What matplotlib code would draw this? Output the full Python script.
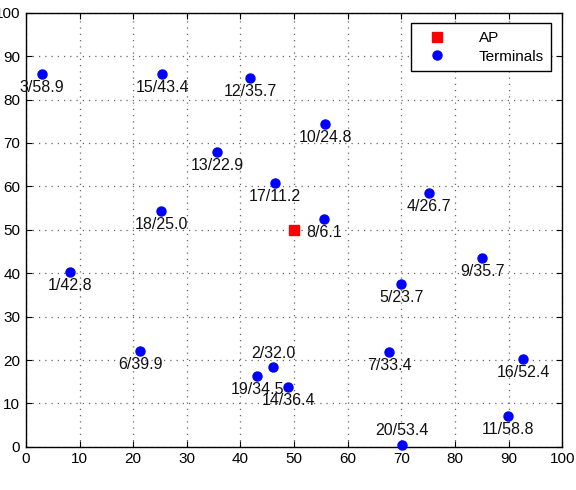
import matplotlib

matplotlib.use("Agg")
import matplotlib.pyplot as plt  # noqa: E402

plt.rcParams["font.family"] = ["Liberation Sans", "DejaVu Sans"]

# access point
ap_x = [50.0]
ap_y = [50.0]

# terminals: id, x, y, value
term_id = [1, 2, 3, 4, 5, 6, 7, 8, 9, 10, 11, 12, 13, 14, 15, 16, 17, 18, 19, 20]
term_x = [8.2, 46.1, 3.0, 75.2, 70.0, 21.3, 67.7, 55.6, 85.1, 55.8,
          89.9, 41.8, 35.6, 48.9, 25.4, 92.7, 46.5, 25.2, 43.1, 70.1]
term_y = [40.3, 18.4, 85.9, 58.5, 37.6, 22.1, 21.9, 52.5, 43.5, 74.4,
          7.1, 85.0, 68.0, 13.8, 85.9, 20.3, 60.8, 54.4, 16.4, 0.5]
term_val = [42.8, 32.0, 58.9, 26.7, 23.7, 39.9, 33.4, 6.1, 35.7, 24.8,
            58.8, 35.7, 22.9, 36.4, 43.4, 52.4, 11.2, 25.0, 34.5, 53.4]
label_above = {2, 20}


def main() -> None:
    fig = plt.figure(figsize=(5.76, 4.9), dpi=100)
    ax = fig.add_axes([0.045, 0.088, 0.931, 0.886])

    ax.plot(ap_x, ap_y, "s", color="red", ms=7.5, label="AP", zorder=3)
    ax.plot(term_x, term_y, "o", color="blue", ms=6.5, label="Terminals", zorder=3,
            clip_on=False)

    for i, x, y, v in zip(term_id, term_x, term_y, term_val):
        dy = 10 if i in label_above else -10
        ax.annotate(f"{i}/{v:.1f}", (x, y), xytext=(0, dy), textcoords="offset points",
                    ha="center", va="center", fontsize=11.5, color="#111111")

    ax.set_xlim(0, 100)
    ax.set_ylim(0, 100)
    ax.set_xticks(range(0, 101, 10))
    ax.set_yticks(range(0, 101, 10))
    ax.tick_params(direction="in", top=True, right=True, labelsize=11, length=4, pad=4)
    ax.grid(True, linestyle=(0, (1, 4)), color="#666666", linewidth=0.9)
    for s in ax.spines.values():
        s.set_linewidth(1.0)

    leg = ax.legend(loc="upper right", fontsize=11, fancybox=False, edgecolor="black",
                    framealpha=1, borderaxespad=0.7, handletextpad=1.5, handlelength=2.4,
                    borderpad=0.5, labelspacing=0.3)
    leg.get_frame().set_linewidth(1.0)

    fig.savefig("out.png", dpi=100)


if __name__ == "__main__":
    main()
